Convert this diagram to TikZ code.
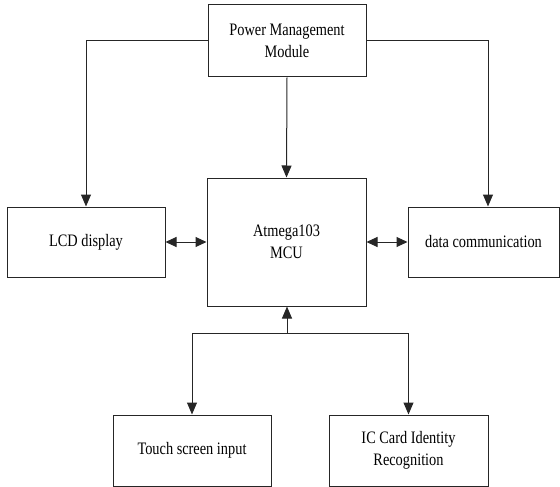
\documentclass[tikz,border=0pt]{standalone}
\usepackage{fontspec}
\setmainfont{Liberation Serif}[FakeStretch=0.82]
\usetikzlibrary{arrows.meta}
\begin{document}
\begin{tikzpicture}[x=1pt,y=-1pt,
  box/.style={draw=black!85,line width=1pt,inner sep=0pt,align=center,
    font=\fontsize{17.5}{22}\selectfont,text=black},
  conn/.style={draw=black!85,line width=1pt},
  arr/.style={conn,-{Triangle[length=12pt,width=10pt]}},
  biarr/.style={conn,{Triangle[length=11pt,width=10pt]}-{Triangle[length=11pt,width=10pt]}}]
\useasboundingbox (0,0) rectangle (560,487);
\node[box,minimum width=158pt,minimum height=72pt] (pw) at (287,41) {Power Management\\Module};
\node[box,minimum width=159pt,minimum height=128pt] (mcu) at (286.5,242) {Atmega103\\MCU};
\node[box,minimum width=158pt,minimum height=70pt] (lcd) at (86,242) {LCD display};
\node[box,minimum width=151pt,minimum height=70pt] (dc) at (483.5,242) {data communication};
\node[box,minimum width=158pt,minimum height=71pt] (ts) at (192,450.5) {Touch screen input};
\node[box,minimum width=159pt,minimum height=71pt] (ic) at (408.5,450.5) {IC Card Identity\\Recognition};
\coordinate (lc) at (86,41);
\coordinate (rc) at (488,41);
\coordinate (j) at (287,333);
\draw[arr] (pw.west) -- (lc) -- (lcd.north);
\draw[arr] (pw.east) -- (rc) -- (rc |- dc.north);
\draw[arr] (pw.south) -- (mcu.north);
\draw[biarr] (lcd.east) -- (mcu.west);
\draw[biarr] (mcu.east) -- (dc.west);
\draw[arr] (j) -- (j |- mcu.south);
\draw[arr] (j) -| (ts.north);
\draw[arr] (j) -| (ic.north);
\end{tikzpicture}
\end{document}
